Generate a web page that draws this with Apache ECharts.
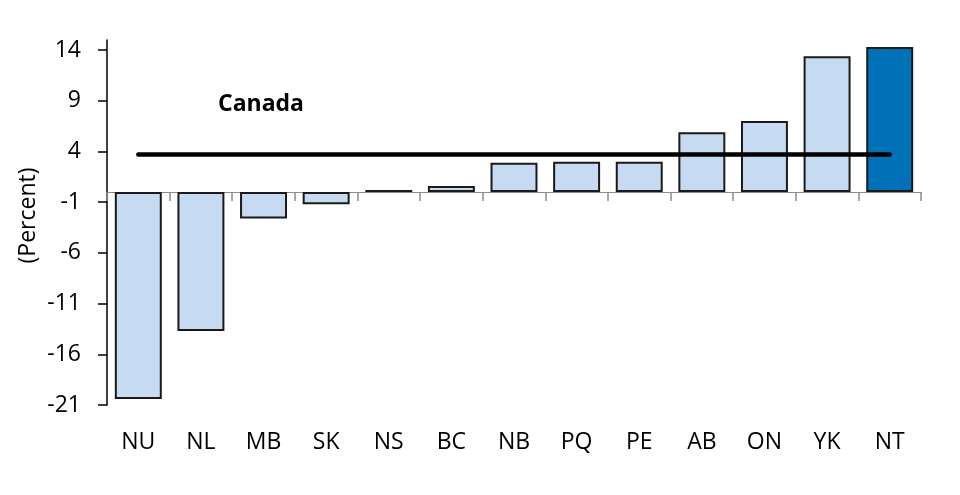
<!DOCTYPE html>
<html><head><meta charset="utf-8">
<script src="https://cdn.jsdelivr.net/npm/echarts@6/dist/echarts.min.js"></script>
<style>html,body{margin:0;padding:0;background:#fff}#c{width:960px;height:495px}</style>
</head><body><div id="c"></div>
<script>
const categories = ['NU','NL','MB','SK','NS','BC','NB','PQ','PE','AB','ON','YK','NT'];
const growth = [-20.4,-13.7,-2.6,-1.2,0.2,0.6,2.9,3.0,3.0,5.9,7.0,13.4,14.3];
const canadaValue = 3.7;
const canada = categories.map(() => canadaValue);
const yTicks = [-21,-16,-11,-6,-1,4,9,14];
const highlight = 'NT';

const FONT = 'Open Sans';
const chart = echarts.init(document.getElementById('c'));
chart.setOption({
  animation: false,
  backgroundColor: '#fff',
  grid: {left: 107, right: 39, top: 40, bottom: 90},
  xAxis: [
    {type: 'category', data: categories, gridIndex: 0,
     axisLine: {onZero: true, lineStyle: {color: '#8c8c8c', width: 1}},
     axisTick: {show: true, alignWithLabel: false, inside: false, length: 9, lineStyle: {color: '#8c8c8c', width: 1.5}},
     axisLabel: {show: false}},
    {type: 'category', data: categories, gridIndex: 0, position: 'bottom',
     axisLine: {show: false, onZero: false}, axisTick: {show: false},
     axisLabel: {show: true, margin: 26, color: '#000', fontFamily: FONT, fontSize: 23}}
  ],
  yAxis: {
    type: 'value', min: -21, max: 15, interval: 5,
    name: '(Percent)', nameLocation: 'middle', nameGap: 67, nameRotate: 90, nameMoveOverlap: false,
    nameTextStyle: {color: '#000', fontFamily: FONT, fontSize: 23, padding: [0, 0, 0, 14]},
    splitLine: {show: false},
    axisLine: {show: true, lineStyle: {color: '#000', width: 1.5}},
    axisTick: {show: true, length: 9, customValues: yTicks, lineStyle: {color: '#000', width: 1.5}},
    axisLabel: {customValues: yTicks, margin: 26, color: '#000', fontFamily: FONT, fontSize: 23}
  },
  series: [
    {type: 'bar', xAxisIndex: 0, data: growth.map((v, i) => ({
        value: v,
        itemStyle: {color: categories[i] === highlight ? '#0071b6' : '#c6dbf1'}
      })),
     barCategoryGap: '25%',
     itemStyle: {borderColor: '#1a1a1a', borderWidth: 2}},
    {type: 'line', xAxisIndex: 0, data: canada, symbol: 'none', z: 5,
     lineStyle: {color: '#000', width: 4.5, cap: 'round'}}
  ],
  graphic: [
    {type: 'text', left: 218, top: 93, style: {text: 'Canada', fontFamily: FONT, fontWeight: 'bold', fontSize: 23, fill: '#000'}}
  ]
});
</script></body></html>
